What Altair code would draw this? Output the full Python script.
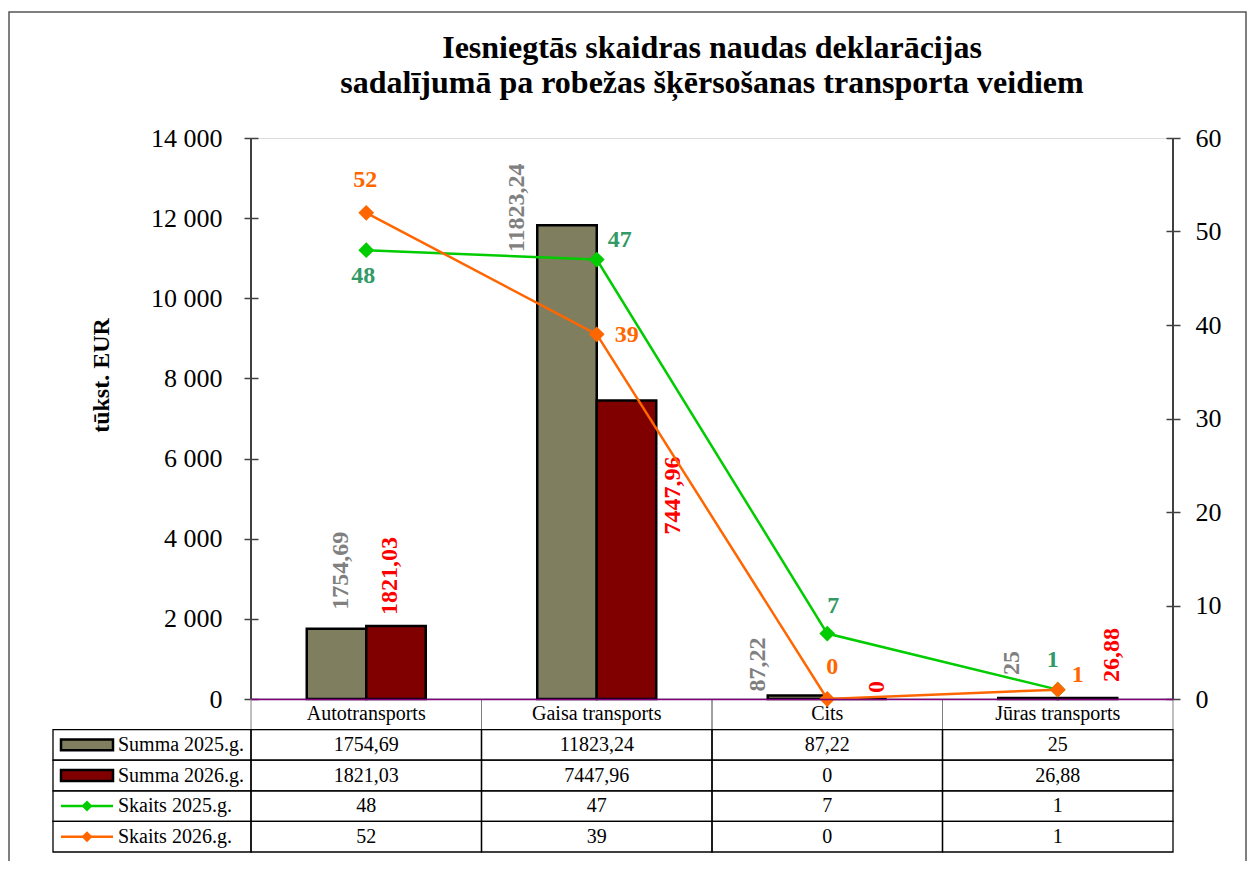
import altair as alt
import pandas as pd

# ---------------- data ----------------
categories = ["Autotransports", "Gaisa transports", "Cits", "Jūras transports"]
summa_2025 = [1754.69, 11823.24, 87.22, 25]
summa_2026 = [1821.03, 7447.96, 0, 26.88]
skaits_2025 = [48, 47, 7, 1]
skaits_2026 = [52, 39, 0, 1]
series_names = ["Summa 2025.g.", "Summa 2026.g.", "Skaits 2025.g.", "Skaits 2026.g."]
left_ticks = [0, 2000, 4000, 6000, 8000, 10000, 12000, 14000]
right_ticks = [0, 10, 20, 30, 40, 50, 60]
title_lines = ["Iesniegtās skaidras naudas deklarācijas",
               "sadalījumā pa robežas šķērsošanas transporta veidiem"]
y_title = "tūkst. EUR"

# label nudges in px (style only)
bar_nudge_2025 = [(19, 4), (-27, -50), (4, -40), (23, -16)]
bar_nudge_2026 = [(11, -6), (-134, 47), (6, 20), (16, 25)]
line_nudge_2025 = [(-3, 26), (23, -20), (6, -28), (-5, -30)]
line_nudge_2026 = [(-1, -33), (30, 1), (5, -32), (20, -15)]

FONT = "Liberation Serif"
W, H = 922, 561
C_OLIVE = "#7F7F5F"
C_DRED = "#800000"
C_GREEN = "#00CC00"
C_ORANGE = "#FF6600"
C_GREEN_LBL = "#339966"
C_GRAY_LBL = "#808080"
C_RED_LBL = "#FF0000"


def fmt(v):
    s = f"{v:.2f}".rstrip("0").rstrip(".")
    return s.replace(".", ",")


bars_df = pd.DataFrame({
    "cat": categories * 2,
    "idx": list(range(4)) * 2,
    "series": [series_names[0]] * 4 + [series_names[1]] * 4,
    "value": summa_2025 + summa_2026,
})
bars_df["label"] = bars_df["value"].map(fmt)

lines_df = pd.DataFrame({
    "cat": categories * 2,
    "idx": list(range(4)) * 2,
    "series": [series_names[2]] * 4 + [series_names[3]] * 4,
    "value": skaits_2025 + skaits_2026,
})
lines_df["label"] = lines_df["value"].map(fmt)

rows = ["hdr"] + series_names
table_rows = []
for i, c in enumerate(categories):
    table_rows.append({"cat": c, "row": "hdr", "text": c, "kind": "hdr"})
    for s, vals in zip(series_names, [summa_2025, summa_2026, skaits_2025, skaits_2026]):
        table_rows.append({"cat": c, "row": s, "text": fmt(vals[i]), "kind": "data"})
table_df = pd.DataFrame(table_rows)
left_df = pd.DataFrame({"row": series_names, "label": series_names})
one = pd.DataFrame({"a": [0]})
title_df = pd.DataFrame({"line": [0, 1], "text": title_lines})

# ---------------- encodings ----------------
X_AXIS = alt.Axis(title=None, labels=False, ticks=False, grid=False,
                  domainColor="#800080", domainWidth=1.5, zindex=2)
X = alt.X("cat:N", sort=categories,
          scale=alt.Scale(domain=categories, paddingInner=0, paddingOuter=0),
          axis=X_AXIS)
XO = alt.XOffset("series:N",
                 scale=alt.Scale(domain=series_names[:2], paddingInner=0, paddingOuter=0.937))

YL = alt.Y("value:Q",
           scale=alt.Scale(domain=[0, 14000], nice=False, zero=True),
           axis=alt.Axis(orient="left", values=left_ticks,
                         labelExpr="replace(format(datum.value, ','), ',', ' ')",
                         labelFont=FONT, labelFontSize=26, labelColor="black",
                         tickColor="#404040", tickWidth=1.5, tickSize=14, offset=-7,
                         domain=False, grid=False, labelPadding=22,
                         title=y_title, titleFont=FONT, titleFontSize=24,
                         titleFontWeight="bold", titleColor="black", titleAngle=270,
                         titleX=-157, titleY=237, titleAlign="center",
                         titleBaseline="middle"))
YR = alt.Y("value:Q",
           scale=alt.Scale(domain=[0, 60], nice=False, zero=True),
           axis=alt.Axis(orient="right", values=right_ticks,
                         labelFont=FONT, labelFontSize=26, labelColor="black",
                         tickColor="#404040", tickWidth=1.5, tickSize=14, offset=-7,
                         domain=False, grid=False, labelPadding=15, title=None))
YT = alt.Y("row:N", sort=rows,
           scale=alt.Scale(domain=rows, range=[H, H + 153], paddingInner=0, paddingOuter=0),
           axis=None)

# ---------------- bars + labels ----------------
bars = alt.Chart(bars_df).mark_bar(stroke="black", strokeWidth=2.5).encode(
    x=X, xOffset=XO, y=YL,
    color=alt.Color("series:N",
                    scale=alt.Scale(domain=series_names[:2], range=[C_OLIVE, C_DRED]),
                    legend=None),
)
bar_labels = []
for s, nud, col in [(series_names[0], bar_nudge_2025, C_GRAY_LBL),
                    (series_names[1], bar_nudge_2026, C_RED_LBL)]:
    for i in range(4):
        dx, dy = nud[i]
        bar_labels.append(
            alt.Chart(bars_df).transform_filter(
                f"datum.idx == {i} && datum.series == '{s}'"
            ).mark_text(angle=270, align="left", baseline="middle", dx=dx, dy=dy,
                        font=FONT, fontSize=24, fontWeight="bold", color=col).encode(
                x=X, xOffset=XO, y=YL, text="label:N")
        )
bars_group = alt.layer(bars, *bar_labels)

# ---------------- lines + labels ----------------
line_layers = []
for s, col, lcol, nud in [(series_names[2], C_GREEN, C_GREEN_LBL, line_nudge_2025),
                          (series_names[3], C_ORANGE, C_ORANGE, line_nudge_2026)]:
    base = alt.Chart(lines_df).transform_filter(f"datum.series == '{s}'")
    line_layers.append(base.mark_line(color=col, strokeWidth=2.5).encode(x=X, y=YR))
    line_layers.append(base.mark_point(shape="diamond", filled=True, size=250,
                                       color=col, opacity=1).encode(x=X, y=YR))
    for i in range(4):
        dx, dy = nud[i]
        line_layers.append(
            alt.Chart(lines_df).transform_filter(
                f"datum.idx == {i} && datum.series == '{s}'"
            ).mark_text(align="center", baseline="middle", dx=dx, dy=dy,
                        font=FONT, fontSize=24, fontWeight="bold", color=lcol).encode(
                x=X, y=YR, text="label:N")
        )
lines_group = alt.layer(*line_layers)

# ---------------- data table ----------------
hdr_cells = alt.Chart(table_df).transform_filter("datum.kind == 'hdr'").mark_rect(
    fill="transparent", stroke="#808080", strokeWidth=1).encode(x=X, y=YT)
data_cells = alt.Chart(table_df).transform_filter("datum.kind == 'data'").mark_rect(
    fill="transparent", stroke="black", strokeWidth=1.3).encode(x=X, y=YT)
cell_text = alt.Chart(table_df).mark_text(font=FONT, fontSize=20, color="black",
                                          baseline="middle").encode(
    x=X, y=YT, text="text:N")
left_cells = alt.Chart(left_df).mark_rect(fill="transparent", stroke="black",
                                          strokeWidth=1.3).encode(
    x=alt.value(-198), x2=alt.value(0), y=YT)
left_text = alt.Chart(left_df).mark_text(font=FONT, fontSize=20, color="black",
                                         align="left", baseline="middle").encode(
    x=alt.value(-133), y=YT, text="label:N")
swatch_path = "M-1,-0.21H1V0.21H-1Z"
sw = []
for s, col in [(series_names[0], C_OLIVE), (series_names[1], C_DRED)]:
    sw.append(alt.Chart(left_df).transform_filter(f"datum.row == '{s}'").mark_point(
        shape=swatch_path, size=2704, fill=col, stroke="black", strokeWidth=2.5,
        opacity=1, fillOpacity=1).encode(x=alt.value(-164), y=YT))
for s, col in [(series_names[2], C_GREEN), (series_names[3], C_ORANGE)]:
    sw.append(alt.Chart(left_df).transform_filter(f"datum.row == '{s}'").mark_rule(
        color=col, strokeWidth=2.5).encode(x=alt.value(-190), x2=alt.value(-138), y=YT))
    sw.append(alt.Chart(left_df).transform_filter(f"datum.row == '{s}'").mark_point(
        shape="diamond", filled=True, size=120, color=col, opacity=1).encode(
        x=alt.value(-164), y=YT))
table_group = alt.layer(hdr_cells, data_cells, cell_text, left_cells, left_text, *sw)

# ---------------- frame decorations + title ----------------
border = alt.Chart(one).mark_rect(fill="transparent", stroke="#555555", strokeWidth=1.5).encode(
    x=alt.value(-242), x2=alt.value(W + 73), y=alt.value(-126), y2=alt.value(H + 400))
left_dom = alt.Chart(one).mark_rule(color="#404040", strokeWidth=2).encode(
    x=alt.value(0), y=alt.value(0), y2=alt.value(H))
right_dom = alt.Chart(one).mark_rule(color="#404040", strokeWidth=2).encode(
    x=alt.value(W), y=alt.value(0), y2=alt.value(H))
title1 = alt.Chart(title_df).transform_filter("datum.line == 0").mark_text(
    font=FONT, fontSize=32, fontWeight="bold", color="black", align="center",
    baseline="alphabetic").encode(x=alt.value(W / 2), y=alt.value(-80), text="text:N")
title2 = alt.Chart(title_df).transform_filter("datum.line == 1").mark_text(
    font=FONT, fontSize=32, fontWeight="bold", color="black", align="center",
    baseline="alphabetic").encode(x=alt.value(W / 2), y=alt.value(-45), text="text:N")

chart = alt.layer(
    border, title1, title2, table_group, bars_group, left_dom, right_dom, lines_group
).resolve_scale(
    y="independent"
).properties(
    width=W, height=H,
    autosize=alt.AutoSizeParams(type="none"),
    padding={"left": 243, "top": 130, "right": 75, "bottom": 162},
).configure_view(
    stroke="#A0A0A0", strokeWidth=1.5
).configure(background="white")

chart.save("out.html", embed_options={"renderer": "svg", "actions": False})
